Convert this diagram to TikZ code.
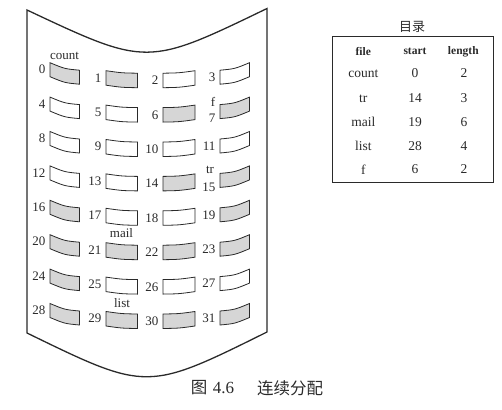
\documentclass[tikz,border=0pt]{standalone}
\usepackage{fontspec}
\setmainfont{Liberation Serif}
\newfontfamily\cjk{Noto Sans CJK SC}
\definecolor{ink}{HTML}{2A2A2A}
\definecolor{shade}{HTML}{D6D6D6}
\begin{document}
\begin{tikzpicture}[x=1pt,y=-1pt,
  sheet/.style={draw=ink,line width=1.3pt},
  blk/.style={draw=ink,line width=0.8pt},
  num/.style={inner sep=0pt,text=ink,font=\fontsize{13}{13}\selectfont},
  lbl/.style={inner sep=0pt,text=ink,font=\fontsize{13}{13}\selectfont},
  tbox/.style={draw=ink,line width=1.6pt,minimum width=161pt,minimum height=145.6pt,inner sep=0pt},
  thead/.style={inner sep=0pt,text=ink,font=\fontsize{11.5}{11.5}\selectfont\bfseries},
  tcell/.style={inner sep=0pt,text=ink,font=\fontsize{13.5}{13.5}\selectfont},
  captxt/.style={inner sep=0pt,text=ink,font=\fontsize{17}{17}\selectfont}]
\useasboundingbox (0,0) rectangle (502,409);
% sheet
\draw[sheet] (27,10) .. controls (147,66.5) .. (267,8.5) -- (267,332) .. controls (147,391.5) .. (27,333) -- cycle;
% blocks
\foreach \i/\f in {0/shade,1/shade,2/white,3/white,4/white,5/white,6/shade,7/shade,
  8/white,9/white,10/white,11/white,12/white,13/white,14/shade,15/shade,
  16/shade,17/white,18/white,19/shade,20/shade,21/shade,22/shade,23/shade,
  24/shade,25/white,26/white,27/white,28/shade,29/shade,30/shade,31/shade} {
  \pgfmathtruncatemacro\r{int(\i/4)}
  \pgfmathtruncatemacro\c{mod(\i,4)}
  \pgfmathsetmacro\base{62.7+34.4*\r}
  \pgfmathsetmacro\xa{{50,106,163,220}[\c]}
  \pgfmathsetmacro\xb{{79.5,137.5,195,249.5}[\c]}
  \pgfmathsetmacro\ya{\base+{0,8,10.5,7.5}[\c]}
  \pgfmathsetmacro\yb{\base+{7.5,10.5,8,0}[\c]}
  \pgfmathsetmacro\hh{{14,14.5,14.5,14}[\c]}
  \pgfmathsetmacro\sg{{2.4,1,1,2.4}[\c]}
  \pgfmathsetmacro\xm{(\xa+\xb)/2}
  \pgfmathsetmacro\ym{(\ya+\yb)/2+\sg}
  \pgfmathsetmacro\dy{((\i==7)||(\i==15)) ? 6.5 : 0}
  \draw[blk,fill=\f] (\xa,\ya) .. controls (\xm,\ym) .. (\xb,\yb) -- (\xb,\yb+\hh) .. controls (\xm,\ym+\hh) .. (\xa,\ya+\hh) -- cycle;
  \node[num,anchor=east] (n\i) at (\xa-4.5,\ya+\hh/2+\dy) {\i};
}
% file labels
\node[lbl] (lcount) at (64.5,56) {count};
\node[lbl] (lf) at (213,101.7) {f};
\node[lbl] (ltr) at (210,170.4) {tr};
\node[lbl] (lmail) at (121.5,233.3) {mail};
\node[lbl] (llist) at (122,302.7) {list};
% directory table
\node[captxt,font=\cjk\fontsize{13}{13}\selectfont] (ttl) at (412,26.7) {目录};
\node[tbox] (tbl) at (412.8,109.5) {};
\node[thead] (h1) at (363.3,51.7) {file};
\node[thead] (h2) at (415,51.7) {start};
\node[thead] (h3) at (463.3,51.7) {length};
\foreach \k/\a/\b/\cc/\yy in {1/count/0/2/73.3, 2/tr/14/3/98.3, 3/mail/19/6/121.7, 4/list/28/4/146, 5/f/6/2/169.3} {
  \node[tcell] (fa\k) at (363.3,\yy) {\a};
  \node[tcell] (fb\k) at (415,\yy) {\b};
  \node[tcell] (fc\k) at (464,\yy) {\cc};
}
% caption
\node[captxt,font=\cjk\fontsize{16.5}{16.5}\selectfont] (cap1) at (199,388) {图};
\node[captxt] (cap2) at (223.5,388) {4.6};
\node[captxt,font=\cjk\fontsize{16.5}{16.5}\selectfont] (cap3) at (290,388) {连续分配};
\end{tikzpicture}
\end{document}
